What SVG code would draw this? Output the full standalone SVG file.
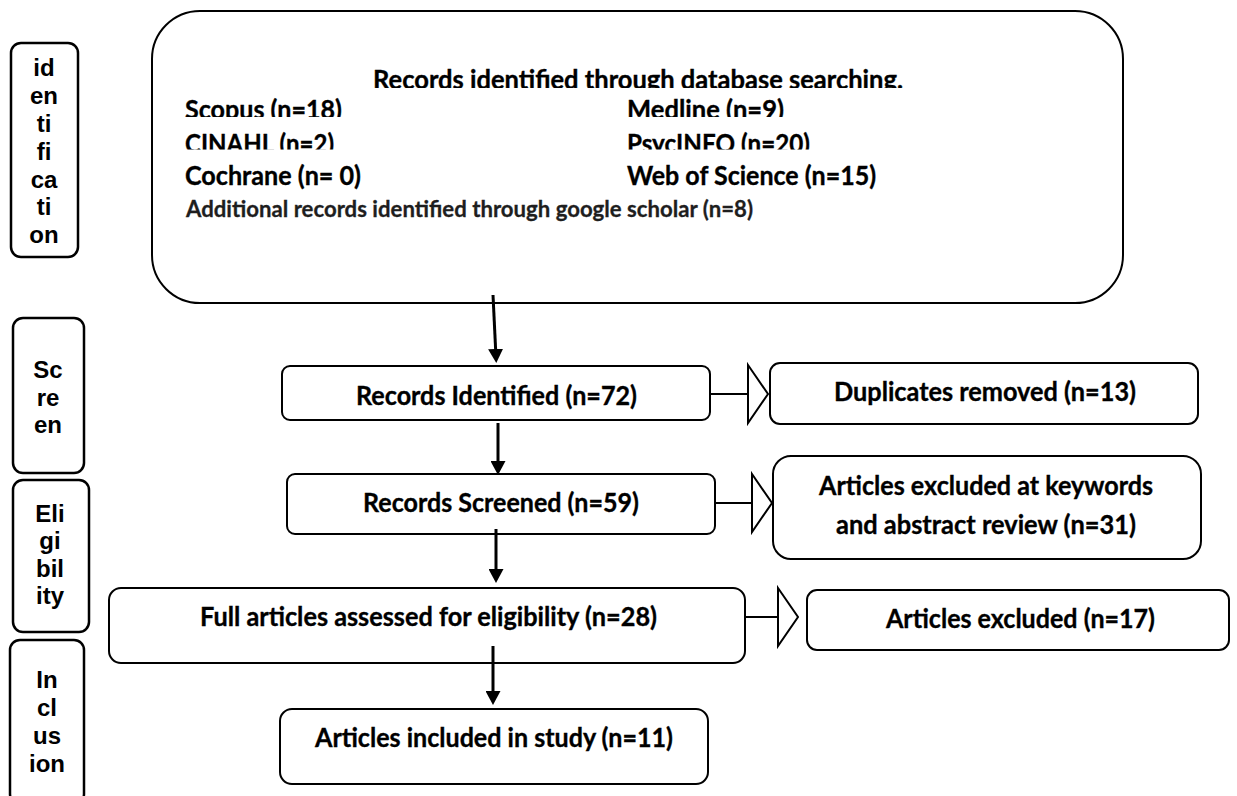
<svg xmlns="http://www.w3.org/2000/svg" width="1237" height="796" viewBox="0 0 1237 796">
<style>
.box{fill:#fff;stroke:#000;stroke-width:2}
.side{fill:#fff;stroke:#000;stroke-width:2.5}
.t{font-family:Lato,"Open Sans","Liberation Sans",sans-serif;font-weight:700;font-size:26.5px;fill:#000;stroke:#000;stroke-width:0.35}
.ts{font-family:"Liberation Sans",Arial,sans-serif;font-weight:700;font-size:24px;fill:#000;text-anchor:middle}
.tadd{font-family:Lato,"Open Sans","Liberation Sans",sans-serif;font-weight:700;font-size:23px;fill:#1e1e1e;stroke:#1e1e1e;stroke-width:0.3}
.v{stroke:#000;stroke-width:3;fill:none}
.h{stroke:#000;stroke-width:2;fill:none}
</style>
<defs>
<marker id="ah" viewBox="0 0 14 15" refX="6" refY="7.5" markerWidth="14" markerHeight="15" markerUnits="userSpaceOnUse" orient="auto">
<path d="M0,0 L14,7.5 L0,15 z" fill="#000"/>
</marker>
<marker id="ht" viewBox="0 0 20 58" refX="20" refY="29" markerWidth="20" markerHeight="58" markerUnits="userSpaceOnUse" orient="auto" overflow="visible">
<path d="M0,0 L20,29 L0,58 z" fill="#fff" stroke="#000" stroke-width="2" stroke-linejoin="miter"/>
</marker>
<clipPath id="c1"><rect x="150" y="40" width="980" height="48"/></clipPath>
<clipPath id="c2"><rect x="150" y="95" width="980" height="22"/></clipPath>
<clipPath id="c3"><rect x="150" y="125" width="980" height="24.5"/></clipPath>
</defs>

<g id="stage-identification">
<rect class="side" x="11" y="43" width="67" height="214" rx="10"/>
<text class="ts" x="44" y="76">id<tspan x="44" dy="28">en</tspan><tspan x="44" dy="28">ti</tspan><tspan x="44" dy="28">fi</tspan><tspan x="44" dy="28">ca</tspan><tspan x="44" dy="27">ti</tspan><tspan x="44" dy="28">on</tspan></text>
</g>
<g id="stage-screen">
<rect class="side" x="13" y="318" width="71" height="155" rx="10"/>
<text class="ts" x="48" y="378">Sc<tspan x="48" dy="28">re</tspan><tspan x="48" dy="27">en</tspan></text>
</g>
<g id="stage-eligibility">
<rect class="side" x="13" y="480" width="76" height="152" rx="10"/>
<text class="ts" x="50" y="522">Eli<tspan x="50" dy="27">gi</tspan><tspan x="50" dy="28">bil</tspan><tspan x="50" dy="27">ity</tspan></text>
</g>
<g id="stage-inclusion">
<rect class="side" x="10" y="640" width="74" height="164" rx="10"/>
<text class="ts" x="47" y="688">In<tspan x="47" dy="28">cl</tspan><tspan x="47" dy="28">us</tspan><tspan x="47" dy="28">ion</tspan></text>
</g>

<g id="records-database">
<rect class="box" x="152" y="11" width="971" height="292" rx="48"/>
<text class="t" x="373" y="89" textLength="530" lengthAdjust="spacingAndGlyphs" clip-path="url(#c1)">Records identified through database searching.</text>
<g clip-path="url(#c2)">
<text class="t" x="185" y="119" textLength="157" lengthAdjust="spacingAndGlyphs">Scopus (n=18)</text>
<text class="t" x="627" y="119" textLength="157" lengthAdjust="spacingAndGlyphs">Medline (n=9)</text>
</g>
<g clip-path="url(#c3)">
<text class="t" x="185" y="153" textLength="149" lengthAdjust="spacingAndGlyphs">CINAHL (n=2)</text>
<text class="t" x="627" y="153" textLength="183" lengthAdjust="spacingAndGlyphs">PsycINFO (n=20)</text>
</g>
<text class="t" x="185" y="185" textLength="176" lengthAdjust="spacingAndGlyphs">Cochrane (n= 0)</text>
<text class="t" x="627" y="185" textLength="249" lengthAdjust="spacingAndGlyphs">Web of Science (n=15)</text>
<text class="tadd" x="186" y="217" textLength="567" lengthAdjust="spacingAndGlyphs">Additional records identified through google scholar (n=8)</text>
</g>

<g id="records-identified">
<rect class="box" x="282" y="366" width="428" height="54" rx="8"/>
<text class="t" x="356" y="405" textLength="281" lengthAdjust="spacingAndGlyphs">Records Identified (n=72)</text>
</g>
<g id="duplicates-removed">
<rect class="box" x="770" y="363" width="428" height="61" rx="10"/>
<text class="t" x="834" y="401" textLength="302" lengthAdjust="spacingAndGlyphs">Duplicates removed (n=13)</text>
</g>
<g id="records-screened">
<rect class="box" x="287" y="474" width="428" height="60" rx="8"/>
<text class="t" x="363" y="512" textLength="276" lengthAdjust="spacingAndGlyphs">Records Screened (n=59)</text>
</g>
<g id="excluded-keywords">
<rect class="box" x="773" y="456" width="428" height="103" rx="18"/>
<text class="t" x="819" y="495" textLength="334" lengthAdjust="spacingAndGlyphs">Articles excluded at keywords</text>
<text class="t" x="836" y="534" textLength="300" lengthAdjust="spacingAndGlyphs">and abstract review (n=31)</text>
</g>
<g id="full-articles">
<rect class="box" x="109" y="588" width="636" height="75" rx="12"/>
<text class="t" x="200" y="626" textLength="457" lengthAdjust="spacingAndGlyphs">Full articles assessed for eligibility (n=28)</text>
</g>
<g id="articles-excluded">
<rect class="box" x="807" y="590" width="422" height="60" rx="10"/>
<text class="t" x="886" y="628" textLength="269" lengthAdjust="spacingAndGlyphs">Articles excluded (n=17)</text>
</g>
<g id="articles-included">
<rect class="box" x="280" y="709" width="428" height="75" rx="12"/>
<text class="t" x="315" y="747" textLength="358" lengthAdjust="spacingAndGlyphs">Articles included in study (n=11)</text>
</g>

<g id="connectors">
<line class="v" x1="493" y1="295" x2="495.9" y2="355" marker-end="url(#ah)"/>
<line class="v" x1="498" y1="423" x2="498" y2="467" marker-end="url(#ah)"/>
<line class="v" x1="496" y1="529" x2="496" y2="575" marker-end="url(#ah)"/>
<line class="v" x1="493" y1="646" x2="493" y2="697" marker-end="url(#ah)"/>
<line class="h" x1="711" y1="394" x2="768" y2="394" marker-end="url(#ht)"/>
<line class="h" x1="716" y1="503" x2="772" y2="503" marker-end="url(#ht)"/>
<line class="h" x1="744" y1="617" x2="798" y2="617" marker-end="url(#ht)"/>
</g>
</svg>
